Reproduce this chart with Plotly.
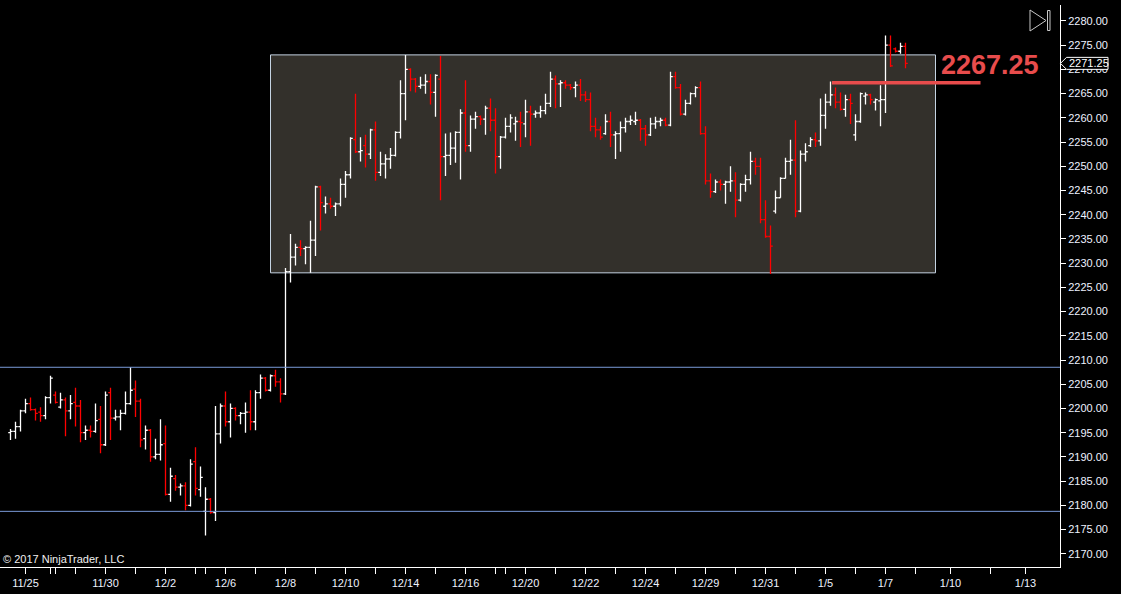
import plotly.graph_objects as go

# bar data (4h bars)
opens = [
    2195.0, 2195.25, 2196.25, 2199.5, 2201.0, 2199.75, 2199.25, 2198.5, 2202.25, 2202.75,
    2200.25, 2201.75, 2199.5, 2201.25, 2200.5, 2195.0, 2195.5, 2195.25, 2197.75, 2192.5,
    2203.25, 2198.0, 2198.25, 2199.0, 2201.0, 2204.0, 2201.5, 2193.75, 2195.5, 2190.0,
    2190.5, 2192.75, 2182.25, 2185.5, 2183.75, 2184.0, 2180.0, 2189.0, 2183.25, 2178.75,
    2181.25, 2178.5, 2194.75, 2200.5, 2197.25, 2200.0, 2198.5, 2199.0, 2199.25, 2197.25,
    2203.25, 2206.25, 2203.75, 2206.75, 2205.5, 2203.0, 2228.25, 2231.25, 2233.25, 2233.0,
    2233.25, 2234.75, 2245.75, 2241.75, 2242.25, 2241.75, 2242.25, 2246.25, 2248.25, 2255.5,
    2253.0, 2254.25, 2252.5, 2257.5, 2248.75, 2250.5, 2251.5, 2252.25, 2257.0, 2265.0,
    2270.0, 2268.0, 2266.5, 2266.75, 2267.5, 2265.25, 2268.0, 2252.0, 2252.25, 2253.75,
    2257.0, 2261.0, 2254.25, 2259.75, 2260.25, 2259.75, 2262.0, 2259.5, 2252.0, 2256.0,
    2258.25, 2258.75, 2259.25, 2258.75, 2261.25, 2260.75, 2261.0, 2261.5, 2263.0, 2268.0,
    2267.0, 2267.25, 2266.75, 2266.25, 2266.75, 2264.75, 2263.75, 2258.25, 2257.5, 2256.75,
    2259.25, 2256.5, 2256.75, 2258.0, 2259.25, 2259.25, 2259.5, 2257.75, 2256.5, 2258.75,
    2259.25, 2259.5, 2258.5, 2268.5, 2266.25, 2260.75, 2263.0, 2265.0, 2266.25, 2256.75,
    2247.0, 2244.75, 2246.75, 2246.25, 2246.75, 2247.0, 2243.0, 2246.25, 2247.25, 2251.0,
    2250.0, 2239.0, 2235.5, 2240.75, 2243.5, 2247.5, 2251.0, 2251.25, 2240.75, 2252.5,
    2254.25, 2255.5, 2255.25, 2260.5, 2263.25, 2264.75, 2263.25, 2261.75, 2263.75, 2256.5,
    2259.25, 2264.5, 2264.75, 2263.25, 2263.5, 2263.75, 2275.0, 2274.25, 2273.75, 2274.75,
]
highs = [
    2195.75, 2197.25, 2199.75, 2202.0, 2202.25, 2200.0, 2200.25, 2202.5, 2206.75, 2203.5,
    2203.25, 2202.25, 2202.75, 2204.25, 2201.75, 2196.5, 2196.5, 2201.0, 2200.5, 2203.5,
    2204.25, 2199.75, 2199.75, 2203.5, 2208.5, 2205.75, 2202.0, 2196.5, 2195.75, 2193.75,
    2197.75, 2196.5, 2187.75, 2186.25, 2184.5, 2184.75, 2189.5, 2192.0, 2188.0, 2183.75,
    2181.5, 2200.5, 2201.0, 2203.5, 2201.0, 2200.25, 2199.25, 2201.25, 2203.75, 2203.75,
    2207.0, 2206.5, 2207.0, 2208.0, 2206.25, 2229.0, 2236.0, 2234.0, 2234.75, 2233.5,
    2238.75, 2246.0, 2246.0, 2243.75, 2243.5, 2242.5, 2247.5, 2249.0, 2256.0, 2265.0,
    2256.0, 2256.5, 2257.75, 2259.25, 2253.0, 2252.5, 2253.75, 2257.25, 2267.75, 2273.0,
    2270.25, 2268.25, 2268.5, 2269.0, 2269.0, 2269.0, 2272.75, 2256.75, 2257.0, 2257.25,
    2261.75, 2267.75, 2260.5, 2261.25, 2260.5, 2262.5, 2264.0, 2262.0, 2256.25, 2260.0,
    2260.75, 2260.25, 2261.25, 2263.75, 2262.5, 2261.5, 2262.5, 2265.0, 2269.5, 2268.75,
    2267.75, 2267.75, 2267.0, 2267.5, 2268.0, 2265.5, 2265.25, 2260.0, 2258.25, 2260.75,
    2261.25, 2257.25, 2259.25, 2260.0, 2260.5, 2261.25, 2259.75, 2258.5, 2260.0, 2260.25,
    2260.0, 2260.0, 2269.5, 2269.5, 2267.0, 2263.75, 2265.25, 2266.5, 2267.5, 2258.25,
    2248.5, 2247.25, 2247.25, 2247.0, 2250.0, 2248.75, 2246.5, 2248.25, 2253.0, 2251.75,
    2251.75, 2243.0, 2237.75, 2245.0, 2247.75, 2251.75, 2255.5, 2259.5, 2253.25, 2254.75,
    2256.0, 2257.0, 2264.0, 2265.0, 2267.5, 2266.25, 2265.25, 2264.75, 2265.0, 2260.75,
    2265.25, 2265.25, 2265.0, 2264.0, 2266.75, 2277.0, 2277.0, 2274.5, 2275.5, 2275.5,
]
lows = [
    2193.5, 2193.75, 2195.25, 2199.0, 2199.5, 2197.5, 2197.25, 2197.75, 2201.0, 2201.0,
    2200.0, 2194.25, 2197.75, 2196.25, 2193.0, 2193.5, 2194.0, 2195.0, 2190.75, 2192.25,
    2193.5, 2197.5, 2195.5, 2198.75, 2200.75, 2198.25, 2192.0, 2191.5, 2189.0, 2189.5,
    2189.25, 2182.0, 2180.75, 2183.0, 2182.0, 2179.0, 2179.75, 2182.0, 2181.75, 2173.75,
    2178.25, 2176.75, 2192.75, 2196.25, 2194.0, 2197.5, 2196.75, 2195.0, 2195.5, 2195.5,
    2202.0, 2203.5, 2203.5, 2204.5, 2201.25, 2202.75, 2226.0, 2229.5, 2231.5, 2229.75,
    2228.0, 2231.5, 2236.75, 2240.25, 2241.25, 2239.75, 2241.75, 2243.5, 2247.5, 2252.75,
    2251.0, 2249.75, 2251.5, 2247.0, 2248.0, 2247.5, 2249.5, 2252.0, 2255.75, 2259.5,
    2265.5, 2265.25, 2266.0, 2265.0, 2262.75, 2260.25, 2243.0, 2248.0, 2250.25, 2250.75,
    2247.25, 2253.0, 2253.0, 2257.75, 2258.5, 2256.5, 2257.25, 2248.5, 2249.5, 2255.75,
    2257.0, 2255.25, 2254.0, 2256.0, 2254.25, 2260.0, 2260.0, 2260.75, 2262.25, 2262.0,
    2262.25, 2266.0, 2265.75, 2264.25, 2263.5, 2263.25, 2257.25, 2256.0, 2255.5, 2256.5,
    2254.0, 2251.5, 2253.0, 2257.0, 2258.5, 2258.5, 2255.25, 2254.25, 2256.25, 2257.75,
    2258.25, 2258.25, 2258.25, 2266.0, 2260.5, 2260.5, 2262.75, 2264.25, 2256.5, 2246.25,
    2243.5, 2244.5, 2245.0, 2242.25, 2244.75, 2239.5, 2242.75, 2244.75, 2246.25, 2248.25,
    2238.25, 2235.25, 2227.75, 2240.25, 2243.5, 2247.5, 2248.25, 2239.5, 2240.5, 2251.0,
    2254.0, 2254.0, 2254.25, 2257.75, 2262.5, 2262.0, 2261.5, 2260.25, 2258.75, 2255.25,
    2259.0, 2262.75, 2262.75, 2261.5, 2258.25, 2261.0, 2270.5, 2273.5, 2273.25, 2270.25,
]
closes = [
    2195.25, 2196.25, 2199.5, 2201.0, 2199.75, 2199.0, 2198.5, 2202.25, 2206.25, 2201.25,
    2201.75, 2199.5, 2201.0, 2200.5, 2195.0, 2195.5, 2195.25, 2197.5, 2192.5, 2202.75,
    2198.0, 2198.25, 2199.0, 2201.0, 2203.75, 2201.5, 2193.5, 2195.5, 2190.0, 2190.5,
    2192.5, 2182.25, 2186.0, 2183.75, 2184.0, 2180.0, 2188.5, 2183.5, 2185.75, 2181.25,
    2178.5, 2194.75, 2200.5, 2197.25, 2200.0, 2198.5, 2199.0, 2199.25, 2197.25, 2203.25,
    2206.25, 2203.75, 2206.75, 2205.5, 2203.0, 2228.25, 2231.25, 2233.25, 2233.0, 2233.25,
    2234.75, 2245.75, 2242.5, 2242.25, 2241.75, 2242.25, 2246.25, 2248.25, 2255.75, 2253.0,
    2253.25, 2252.5, 2257.5, 2248.75, 2250.5, 2251.5, 2252.25, 2257.0, 2265.0, 2270.0,
    2268.0, 2266.5, 2266.75, 2267.5, 2265.25, 2268.75, 2252.0, 2252.25, 2253.75, 2257.0,
    2261.0, 2254.25, 2259.75, 2260.25, 2259.75, 2262.0, 2259.5, 2252.0, 2256.0, 2258.25,
    2260.0, 2259.25, 2259.0, 2261.25, 2260.75, 2261.0, 2261.5, 2263.0, 2268.0, 2267.0,
    2267.25, 2266.75, 2266.25, 2266.75, 2264.75, 2263.75, 2258.25, 2257.5, 2256.0, 2259.25,
    2256.5, 2256.75, 2258.0, 2259.25, 2259.5, 2259.5, 2257.75, 2256.5, 2258.75, 2259.25,
    2259.5, 2258.5, 2268.5, 2266.25, 2260.75, 2263.0, 2265.0, 2266.25, 2256.75, 2247.0,
    2244.75, 2246.75, 2246.25, 2246.75, 2247.0, 2243.0, 2246.25, 2247.25, 2251.0, 2250.0,
    2239.0, 2235.5, 2233.5, 2243.5, 2247.5, 2251.0, 2251.25, 2240.75, 2252.5, 2253.0,
    2255.5, 2255.25, 2260.5, 2263.25, 2264.75, 2263.25, 2261.75, 2263.75, 2263.0, 2259.25,
    2265.0, 2264.75, 2263.75, 2263.75, 2263.75, 2275.0, 2270.75, 2273.75, 2274.75, 2271.25,
]
bar_index = list(range(len(opens)))

# x axis: bar index of each date tick ("" = unlabeled session tick)
tick_idx = [3, 8, 9, 13, 19, 25, 31, 37, 39, 43, 49, 55, 61, 67, 73, 79, 85, 91, 97, 99,
            103, 109, 115, 121, 127, 133, 139, 145, 151, 157, 163, 169, 175, 181, 188, 196, 203]
tick_text = ["11/25", "", "", "", "11/30", "", "12/2", "", "", "12/6", "", "12/8", "", "12/10",
             "", "12/14", "", "12/16", "", "", "12/20", "", "12/22", "", "12/24", "", "12/29",
             "", "12/31", "", "1/5", "", "1/7", "", "1/10", "", "1/13"]

# drawings
range_box = dict(start=52, end=185, top=2273.0, bottom=2228.0)
levels = [2208.5, 2178.75]
breakout_level = 2267.25
breakout_span = (164.3, 194)
last_price = 2271.25

y_lo, y_hi = 2167.26, 2283.3
font = "Liberation Sans, Arial, sans-serif"

fig = go.Figure()
fig.add_trace(go.Ohlc(
    x=bar_index, open=opens, high=highs, low=lows, close=closes,
    increasing=dict(line=dict(color="#ffffff", width=1.3)),
    decreasing=dict(line=dict(color="#ff0000", width=1.3)),
    tickwidth=0.45, hoverinfo="skip", showlegend=False,
))

shapes = [
    dict(type="rect", xref="x", yref="y", x0=range_box["start"], x1=range_box["end"],
         y0=range_box["bottom"], y1=range_box["top"], fillcolor="#33302b",
         line=dict(color="#c5d3e2", width=1), layer="below"),
]
for lv in levels:
    shapes.append(dict(type="line", xref="paper", yref="y", x0=0, x1=1, y0=lv, y1=lv,
                       line=dict(color="#7a9ad8", width=1)))
shapes.append(dict(type="line", xref="x", yref="y", x0=breakout_span[0], x1=breakout_span[1],
                   y0=breakout_level, y1=breakout_level, line=dict(color="#e84c4c", width=3.5)))

# last price tag on the axis
tag_y = (last_price - y_lo) / (y_hi - y_lo)
shapes.append(dict(type="path", xref="paper", yref="paper", xsizemode="pixel", ysizemode="pixel",
                   xanchor=1, yanchor=tag_y, path="M 0.5,0 L 6.5,6 L 48,6 L 48,-6 L 6.5,-6 Z",
                   fillcolor="#000000", line=dict(color="#ffffff", width=1), layer="above"))
# scroll-to-end button
shapes.append(dict(type="path", xref="paper", yref="paper", xsizemode="pixel", ysizemode="pixel",
                   xanchor=1, yanchor=1, path="M -30,-5 L -14,-15.5 L -30,-26 Z",
                   line=dict(color="#c8c8c8", width=1)))
shapes.append(dict(type="path", xref="paper", yref="paper", xsizemode="pixel", ysizemode="pixel",
                   xanchor=1, yanchor=1, path="M -12.5,-5.5 L -10,-5.5 L -10,-25.5 L -12.5,-25.5 Z",
                   line=dict(color="#c8c8c8", width=1)))

annotations = [
    dict(text="<b>2267.25</b>", x=195.8, y=breakout_level, xref="x", yref="y",
         xanchor="center", yanchor="bottom", yshift=1, showarrow=False,
         font=dict(family=font, size=27, color="#e84c4c")),
    dict(text="© 2017 NinjaTrader, LLC", x=0, y=0, xref="paper", yref="paper",
         xanchor="left", yanchor="bottom", xshift=1, showarrow=False,
         font=dict(family=font, size=11, color="#f0f0f0")),
    dict(text="2271.25", x=1, y=last_price, xref="paper", yref="y", xanchor="left",
         yanchor="middle", xshift=7, showarrow=False,
         font=dict(family=font, size=11, color="#ffffff")),
]

fig.update_layout(
    width=1121, height=594,
    margin=dict(l=0, r=61, t=5, b=27),
    paper_bgcolor="#000000", plot_bgcolor="#000000",
    shapes=shapes, annotations=annotations, showlegend=False,
    xaxis=dict(range=[-2.1, 209.9], tickmode="array", tickvals=tick_idx, ticktext=tick_text,
               ticks="outside", ticklen=6, tickcolor="#ffffff", showline=True,
               linecolor="#ffffff", linewidth=1, showgrid=False, zeroline=False,
               tickfont=dict(family=font, size=11, color="#eef2ff"),
               rangeslider=dict(visible=False), fixedrange=True),
    yaxis=dict(side="right", range=[y_lo, y_hi], tick0=2170, dtick=5, tickformat=".2f",
               ticks="outside", ticklen=5, tickcolor="#ffffff", showline=True,
               linecolor="#ffffff", linewidth=1, showgrid=False, zeroline=False,
               tickfont=dict(family=font, size=11, color="#eef2ff"), fixedrange=True),
)

# drop the browser's default page margin so the figure sits at the window corner
fig.write_html("out.html", config={"displayModeBar": False},
               post_script="document.body.style.margin='0px';")
